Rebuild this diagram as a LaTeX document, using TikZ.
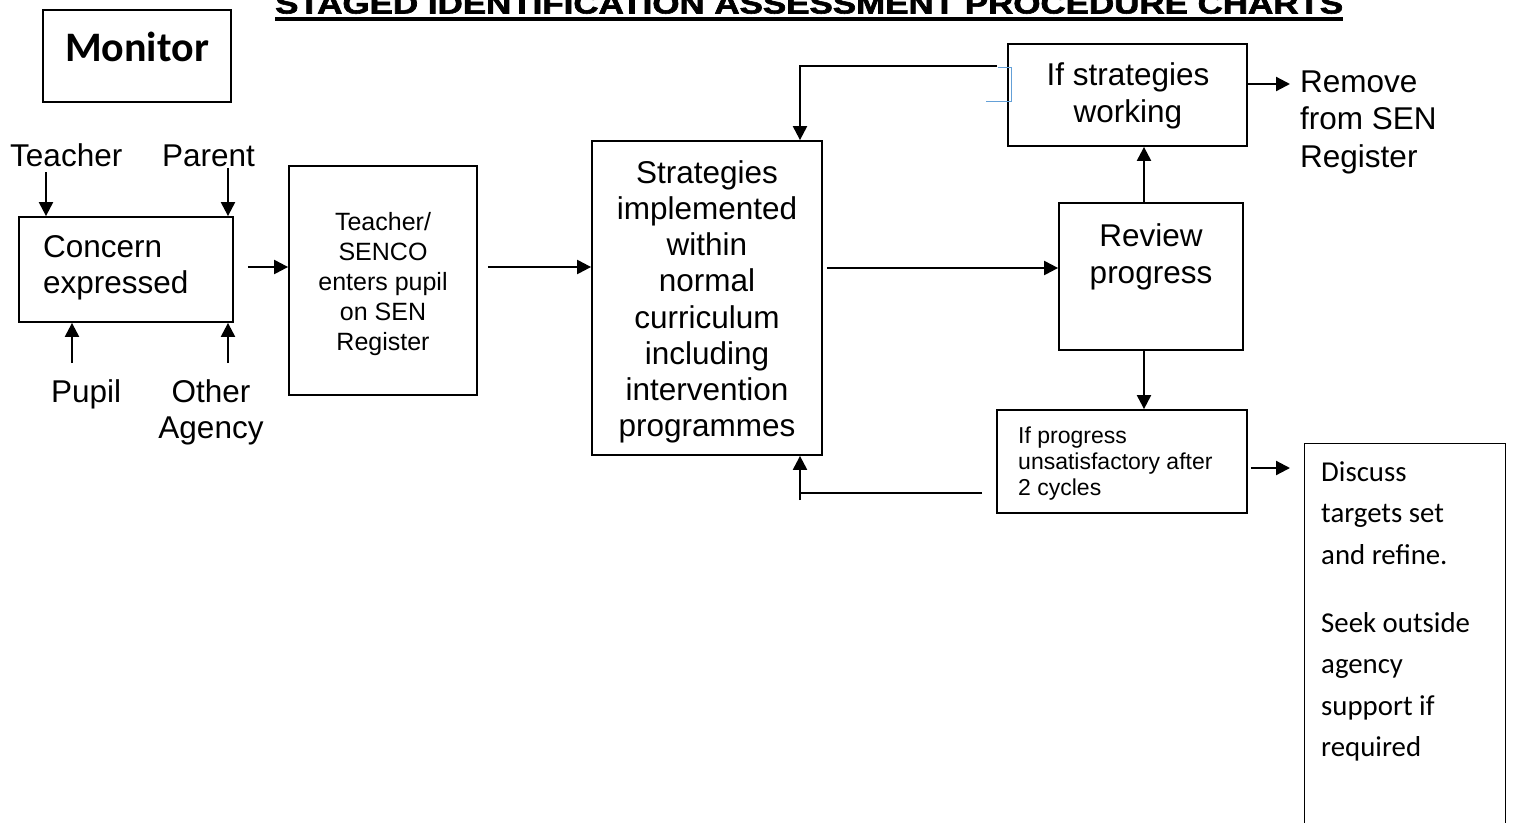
\documentclass[tikz,border=0pt]{standalone}
\usepackage{fontspec}
\setmainfont{Liberation Sans}
\newfontfamily\calibrifont{Carlito}
\newfontfamily\titlefont[FakeBold=2]{Liberation Sans Bold}
\usetikzlibrary{arrows.meta}
\definecolor{artblue}{RGB}{100,160,215}
\tikzset{
  box/.style={draw, line width=1.8pt, inner sep=0pt},
  thinbox/.style={draw, line width=1.3pt, inner sep=0pt},
  flow/.style={line width=2.2pt, -{Triangle[length=14pt,width=14pt]}},
  plain/.style={line width=2.2pt},
  txt/.style={inner sep=0pt, font=\fontsize{31.5}{36.5}\selectfont},
  mid/.style={inner sep=0pt, font=\fontsize{25}{30}\selectfont},
  small/.style={inner sep=0pt, font=\fontsize{23}{26}\selectfont},
  cal/.style={inner sep=0pt, font=\calibrifont\fontsize{28.8}{41.5}\selectfont},
}
\begin{document}
\begin{tikzpicture}[x=1pt,y=-1pt]
\useasboundingbox (0,0) rectangle (1515,822);

% title (top cut off by the page)
\node[anchor=base west, inner sep=0pt] (title) at (275,13.5)
  {\resizebox{1068pt}{20pt}{\titlefont STAGED IDENTIFICATION ASSESSMENT PROCEDURE CHARTS}};
\draw[line width=3.5pt] ([yshift=-5.5pt]title.base west) -- ([yshift=-5.5pt]title.base east);

% Monitor
\node[thinbox, minimum width=188pt, minimum height=92pt] (monbox) at (137,56) {};
\node[anchor=base, inner sep=0pt, font=\calibrifont\bfseries\fontsize{42}{48}\selectfont] (monitor) at (137,61) {Monitor};

% Concern cluster
\node[txt, anchor=base west] (teacher) at (10,166) {Teacher};
\node[txt, anchor=base west] (parent) at (162,166) {Parent};
\node[box, minimum width=214pt, minimum height=105pt] (concern) at (126,269.5) {};
\node[txt, anchor=north west, align=left] (concerntxt) at (43,227) {\rule{0pt}{30pt}Concern\\expressed};
\node[txt, anchor=base west] (pupil) at (51,402) {Pupil};
\node[txt, anchor=north, align=center] (other) at (211,372) {\rule{0pt}{30pt}Other\\Agency};

\coordinate (tA) at ([xshift=36pt,yshift=-6pt]teacher.base west);
\draw[flow] (tA) -- (tA |- concern.north);
\coordinate (pA) at ([xshift=66pt,yshift=-2pt]parent.base west);
\draw[flow] (pA) -- (pA |- concern.north);
\coordinate (uA) at ([xshift=21pt,yshift=39pt]pupil.base west);
\draw[flow] (uA) -- (uA |- concern.south);
\coordinate (oA) at ([xshift=17pt,yshift=9pt]other.north);
\draw[flow] (oA) -- (oA |- concern.south);

% SENCO
\node[box, minimum width=188pt, minimum height=229pt] (senco) at (383,280.5) {};
\node[mid, anchor=north, align=center] (sencotxt) at (383,206) {\rule{0pt}{24pt}Teacher/\\SENCO\\enters pupil\\on SEN\\Register};
\coordinate (a1) at ([xshift=14pt,yshift=2.5pt]concern.east);
\draw[flow] (a1) -- (a1 -| senco.west);

% Strategies
\node[box, minimum width=230pt, minimum height=314pt] (strat) at (707,298) {};
\node[txt, anchor=north, align=center, font=\fontsize{31.5}{36.2}\selectfont] (strattxt) at (707,153)
  {\rule{0pt}{30pt}Strategies\\implemented\\within\\normal\\curriculum\\including\\intervention\\programmes};
\coordinate (a2s) at ([xshift=10pt]senco.east);
\draw[flow] (a2s |- a1) -- (a1 -| strat.west);

% Review
\node[box, minimum width=184pt, minimum height=147pt] (review) at (1151,276.5) {};
\node[txt, anchor=north, align=center, font=\fontsize{31.5}{37}\selectfont] (reviewtxt) at (1151,216) {\rule{0pt}{30pt}Review\\progress};
\coordinate (a3) at ([xshift=4pt,yshift=30pt]strat.east);
\draw[flow] (a3) -- (a3 -| review.west);

% If strategies working
\node[box, minimum width=239pt, minimum height=102pt] (ifstrat) at (1127.5,95) {};
\node[txt, anchor=north, align=center, font=\fontsize{31.5}{37}\selectfont] (ifstrattxt) at (1128,55) {\rule{0pt}{30pt}If strategies\\working};
\coordinate (rv) at ([xshift=-7pt]review.north);
\draw[flow] (rv) -- (rv |- ifstrat.south);

% Remove from SEN Register
\node[txt, anchor=north west, align=left, font=\fontsize{31.5}{37.5}\selectfont] (remove) at (1300,62) {\rule{0pt}{30pt}Remove\\from SEN\\Register};
\coordinate (a5) at ([yshift=11pt]ifstrat.east);
\coordinate (rmv) at ([xshift=-10pt]remove.west);
\draw[flow] (a5) -- (a5 -| rmv);

% feedback from "If strategies working" to Strategies
\coordinate (f1) at ([xshift=-10pt,yshift=29pt]ifstrat.west);
\coordinate (f2) at ([xshift=93pt]strat.north);
\draw[flow] (f1) -| (f2);
\draw[artblue, line width=0.9pt] (998,67) -- (1011,67) -- (1011,101) -- (986,101);

% If progress unsatisfactory
\node[box, minimum width=250pt, minimum height=103pt] (ifprog) at (1122,461.5) {};
\node[small, anchor=north west, align=left] (ifprogtxt) at (1018,423) {\rule{0pt}{20pt}If progress\\unsatisfactory after\\2 cycles};
\coordinate (rd) at ([xshift=-7pt]review.south);
\draw[flow] (rd) -- (rd |- ifprog.north);

% return to Strategies
\coordinate (r1) at ([xshift=-14pt,yshift=-31.5pt]ifprog.west);
\coordinate (r2) at ([xshift=93pt]strat.south);
\coordinate (r3) at (r1 -| r2);
\draw[plain] (r1) -- (r3);
\draw[flow] ([yshift=-7pt]r3) -- (r2);

% Discuss
\node[thinbox, anchor=north west, minimum width=201pt, minimum height=400pt] (discuss) at (1304,443) {};
\node[cal, anchor=north west, align=left] (discusstxt) at (1321,456)
  {\rule{0pt}{25pt}Discuss\\targets set\\and refine.\\[26.5pt]Seek outside\\agency\\support if\\required};
\coordinate (d1) at ([xshift=3pt,yshift=-6.5pt]ifprog.east);
\coordinate (d2) at ([xshift=-14pt]discuss.north west);
\draw[flow] (d1) -- (d1 -| d2);
\end{tikzpicture}
\end{document}
